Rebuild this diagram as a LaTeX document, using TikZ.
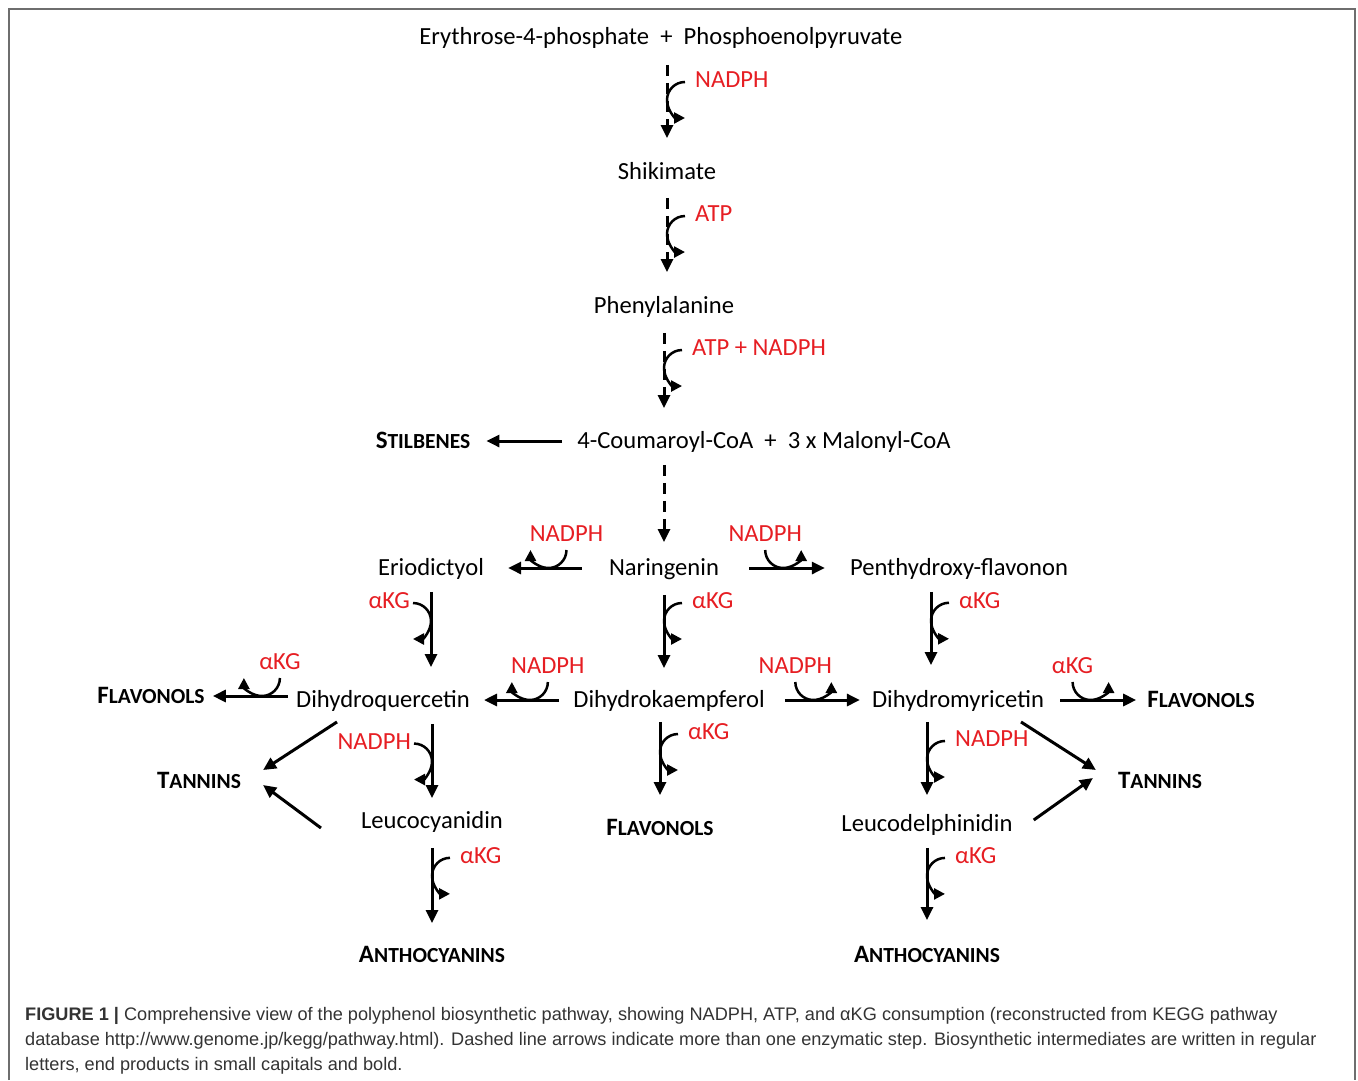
\documentclass[tikz,border=0pt]{standalone}
\usepackage{fontspec}
\setmainfont{Carlito}
\newfontfamily\capfont{Liberation Sans}
\usetikzlibrary{arrows.meta}
\definecolor{cofred}{RGB}{230,30,35}
\definecolor{framegray}{RGB}{110,110,110}
\newcommand{\finalprod}[2]{\textbf{\fontsize{25}{28}\selectfont #1\fontsize{21.5}{24}\selectfont #2}}
\newcommand{\cofR}[3]{%
  \draw[cof] ([shift={(18,18)}]#1) arc[start angle=90,end angle=270,radius=18];
  \node[lbl,anchor=west] (#2) at ([shift={(28,20)}]#1) {#3};}
\newcommand{\cofL}[3]{%
  \draw[cof] ([shift={(-18,18)}]#1) arc[start angle=90,end angle=-90,radius=18];
  \node[lbl,anchor=east] (#2) at ([shift={(-21,20)}]#1) {#3};}
\newcommand{\cofW}[3]{%
  \draw[cof] ([shift={(18,18)}]#1) arc[start angle=0,end angle=-180,radius=18];
  \node[lbl,anchor=south] (#2) at ([shift={(18,26)}]#1) {#3};}
\newcommand{\cofE}[3]{%
  \draw[cof] ([shift={(-18,18)}]#1) arc[start angle=180,end angle=360,radius=18];
  \node[lbl,anchor=south] (#2) at ([shift={(-18,26)}]#1) {#3};}

\begin{document}
\begin{tikzpicture}[x=1pt, y=1pt,
  mol/.style={inner sep=0pt, text height=15.5pt, text depth=0pt, font=\fontsize{24.6}{28}\selectfont},
  lbl/.style={mol, text=cofred},
  main/.style={line width=3pt, -{Triangle[length=13pt,width=12pt]}},
  cof/.style={line width=2.5pt, -{Triangle[length=11pt,width=11pt]}},
  dashline/.style={dash pattern=on 11pt off 7pt}]
  \useasboundingbox (0,0) rectangle (1358,-1080);
  \draw[framegray, line width=2pt] (9,-1080) -- (9,-9) -- (1355,-9) -- (1355,-1080);

  \node[mol] (e4p) at (661,-37) {Erythrose-4-phosphate~~+~~Phosphoenolpyruvate};
  \node[mol] (shik) at (667,-172) {Shikimate};
  \node[mol] (phe) at (664,-306) {Phenylalanine};
  \node[mol] (cou) at (764,-441) {4-Coumaroyl-CoA~~+~~3 x Malonyl-CoA};
  \node[mol] (stil) at (423,-441) {\finalprod{S}{TILBENES}};
  \node[mol] (nar) at (664,-568) {Naringenin};
  \node[mol] (erio) at (431,-568) {Eriodictyol};
  \node[mol] (pen) at (959,-568) {Penthydroxy-flavonon};
  \node[mol] (dhq) at (383,-700) {Dihydroquercetin};
  \node[mol] (dhk) at (669,-700) {Dihydrokaempferol};
  \node[mol] (dhm) at (958,-700) {Dihydromyricetin};
  \node[mol] (flL) at (151,-696) {\finalprod{F}{LAVONOLS}};
  \node[mol] (flR) at (1201,-700) {\finalprod{F}{LAVONOLS}};
  \node[mol] (tanL) at (199,-781) {\finalprod{T}{ANNINS}};
  \node[mol] (tanR) at (1160,-781) {\finalprod{T}{ANNINS}};
  \node[mol] (leuc) at (432,-821) {Leucocyanidin};
  \node[mol] (flM) at (660,-828) {\finalprod{F}{LAVONOLS}};
  \node[mol] (leud) at (927,-824) {Leucodelphinidin};
  \node[mol] (antL) at (432,-955) {\finalprod{A}{NTHOCYANINS}};
  \node[mol] (antR) at (927,-955) {\finalprod{A}{NTHOCYANINS}};

  \draw[main, dashline, shorten <=20pt, shorten >=26pt] (e4p.south -| shik.north) -- coordinate[pos=.462] (k1) (shik.north);
  \draw[main, dashline, shorten <=18pt, shorten >=26pt] (shik.south) -- coordinate[pos=.458] (k2) (shik.south |- phe.north);
  \draw[main, dashline, shorten <=19pt, shorten >=25pt] (phe.south) -- coordinate[pos=.454] (k3) (phe.south |- cou.north);
  \draw[main, dashline, shorten <=16pt, shorten >=18pt] (cou.south -| nar.north) -- (nar.north);
  \draw[main, shorten <=15pt, shorten >=16pt] (cou.west) -- (stil.east);
  \cofR{k1}{c1}{NADPH}
  \cofR{k2}{c2}{ATP}
  \cofR{k3}{c3}{ATP + NADPH}

  \draw[main, shorten <=27pt, shorten >=24pt] (nar.west) -- coordinate[pos=.484] (k5) (erio.east);
  \draw[main, shorten <=30pt, shorten >=25pt] (nar.east) -- coordinate[pos=.49] (k6) (pen.west);
  \cofW{k5}{c5}{NADPH}
  \cofE{k6}{c6}{NADPH}

  \draw[main, shorten <=16pt, shorten >=25pt] (erio.south) -- coordinate[pos=.388] (k7) (erio.south |- dhq.north);
  \draw[main, shorten <=19pt, shorten >=24pt] (nar.south) -- coordinate[pos=.388] (k8) (nar.south |- dhk.north);
  \draw[main, shorten <=16pt, shorten >=27pt] ([xshift=-28pt]pen.south) -- coordinate[pos=.386] (k9) ([xshift=-27pt]dhm.north);
  \cofL{k7}{c7}{αKG}
  \cofR{k8}{c8}{αKG}
  \cofR{k9}{c9}{αKG}

  \draw[main, shorten <=8pt, shorten >=8pt] (dhq.west |- flL.east) -- coordinate[pos=.374] (k10) (flL.east);
  \draw[main, shorten <=14pt, shorten >=14pt] (dhk.west) -- coordinate[pos=.42] (k11) (dhq.east);
  \draw[main, shorten <=20pt, shorten >=12pt] (dhk.east) -- coordinate[pos=.453] (k12) (dhm.west);
  \draw[main, shorten <=16pt, shorten >=11pt] (dhm.east) -- coordinate[pos=.451] (k13) (flR.west);
  \cofW{k10}{c10}{αKG}
  \cofW{k11}{c11}{NADPH}
  \cofE{k12}{c12}{NADPH}
  \cofE{k13}{c13}{αKG}

  \draw[main] ([shift={(-46,-14)}]dhq.south) -- ([shift={(22,11)}]tanL.east);
  \draw[main] ([shift={(-40,-7)}]leuc.west) -- ([shift={(22,-4)}]tanL.east);
  \draw[main] ([shift={(63,-14)}]dhm.south) -- ([shift={(-22,11)}]tanR.west);
  \draw[main] ([shift={(21,4)}]leud.east) -- ([shift={(-25,3)}]tanR.west);

  \draw[main, shorten <=16pt, shorten >=15pt] (dhq.south -| leuc.north) -- coordinate[pos=.51] (k16) (leuc.north);
  \draw[main, shorten <=19pt, shorten >=24pt] (leuc.south) -- coordinate[pos=.397] (k17) (leuc.south |- antL.north);
  \draw[main, shorten <=14pt, shorten >=25pt] (dhk.south -| flM.north) -- coordinate[pos=.393] (k18) (flM.north);
  \draw[main, shorten <=14pt, shorten >=21pt] (dhm.south -| leud.north) -- coordinate[pos=.472] (k19) (leud.north);
  \draw[main, shorten <=16pt, shorten >=27pt] (leud.south) -- coordinate[pos=.382] (k22) (leud.south |- antR.north);
  \cofL{k16}{c16}{NADPH}
  \cofR{k17}{c17}{αKG}
  \cofR{k18}{c18}{αKG}
  \cofR{k19}{c19}{NADPH}
  \cofR{k22}{c22}{αKG}

  \node[anchor=north west, inner sep=0pt, align=left, text=black!80,
    font=\capfont\fontsize{18.15}{25}\selectfont] (cap) at (25,-1007)
    {\textbf{FIGURE 1 |} Comprehensive view of the polyphenol biosynthetic pathway, showing NADPH, ATP, and αKG consumption (reconstructed from KEGG pathway\\
     database http://www.genome.jp/kegg/pathway.html). Dashed line arrows indicate more than one enzymatic step. Biosynthetic intermediates are written in regular\\
     letters, end products in small capitals and bold.};
\end{tikzpicture}
\end{document}
